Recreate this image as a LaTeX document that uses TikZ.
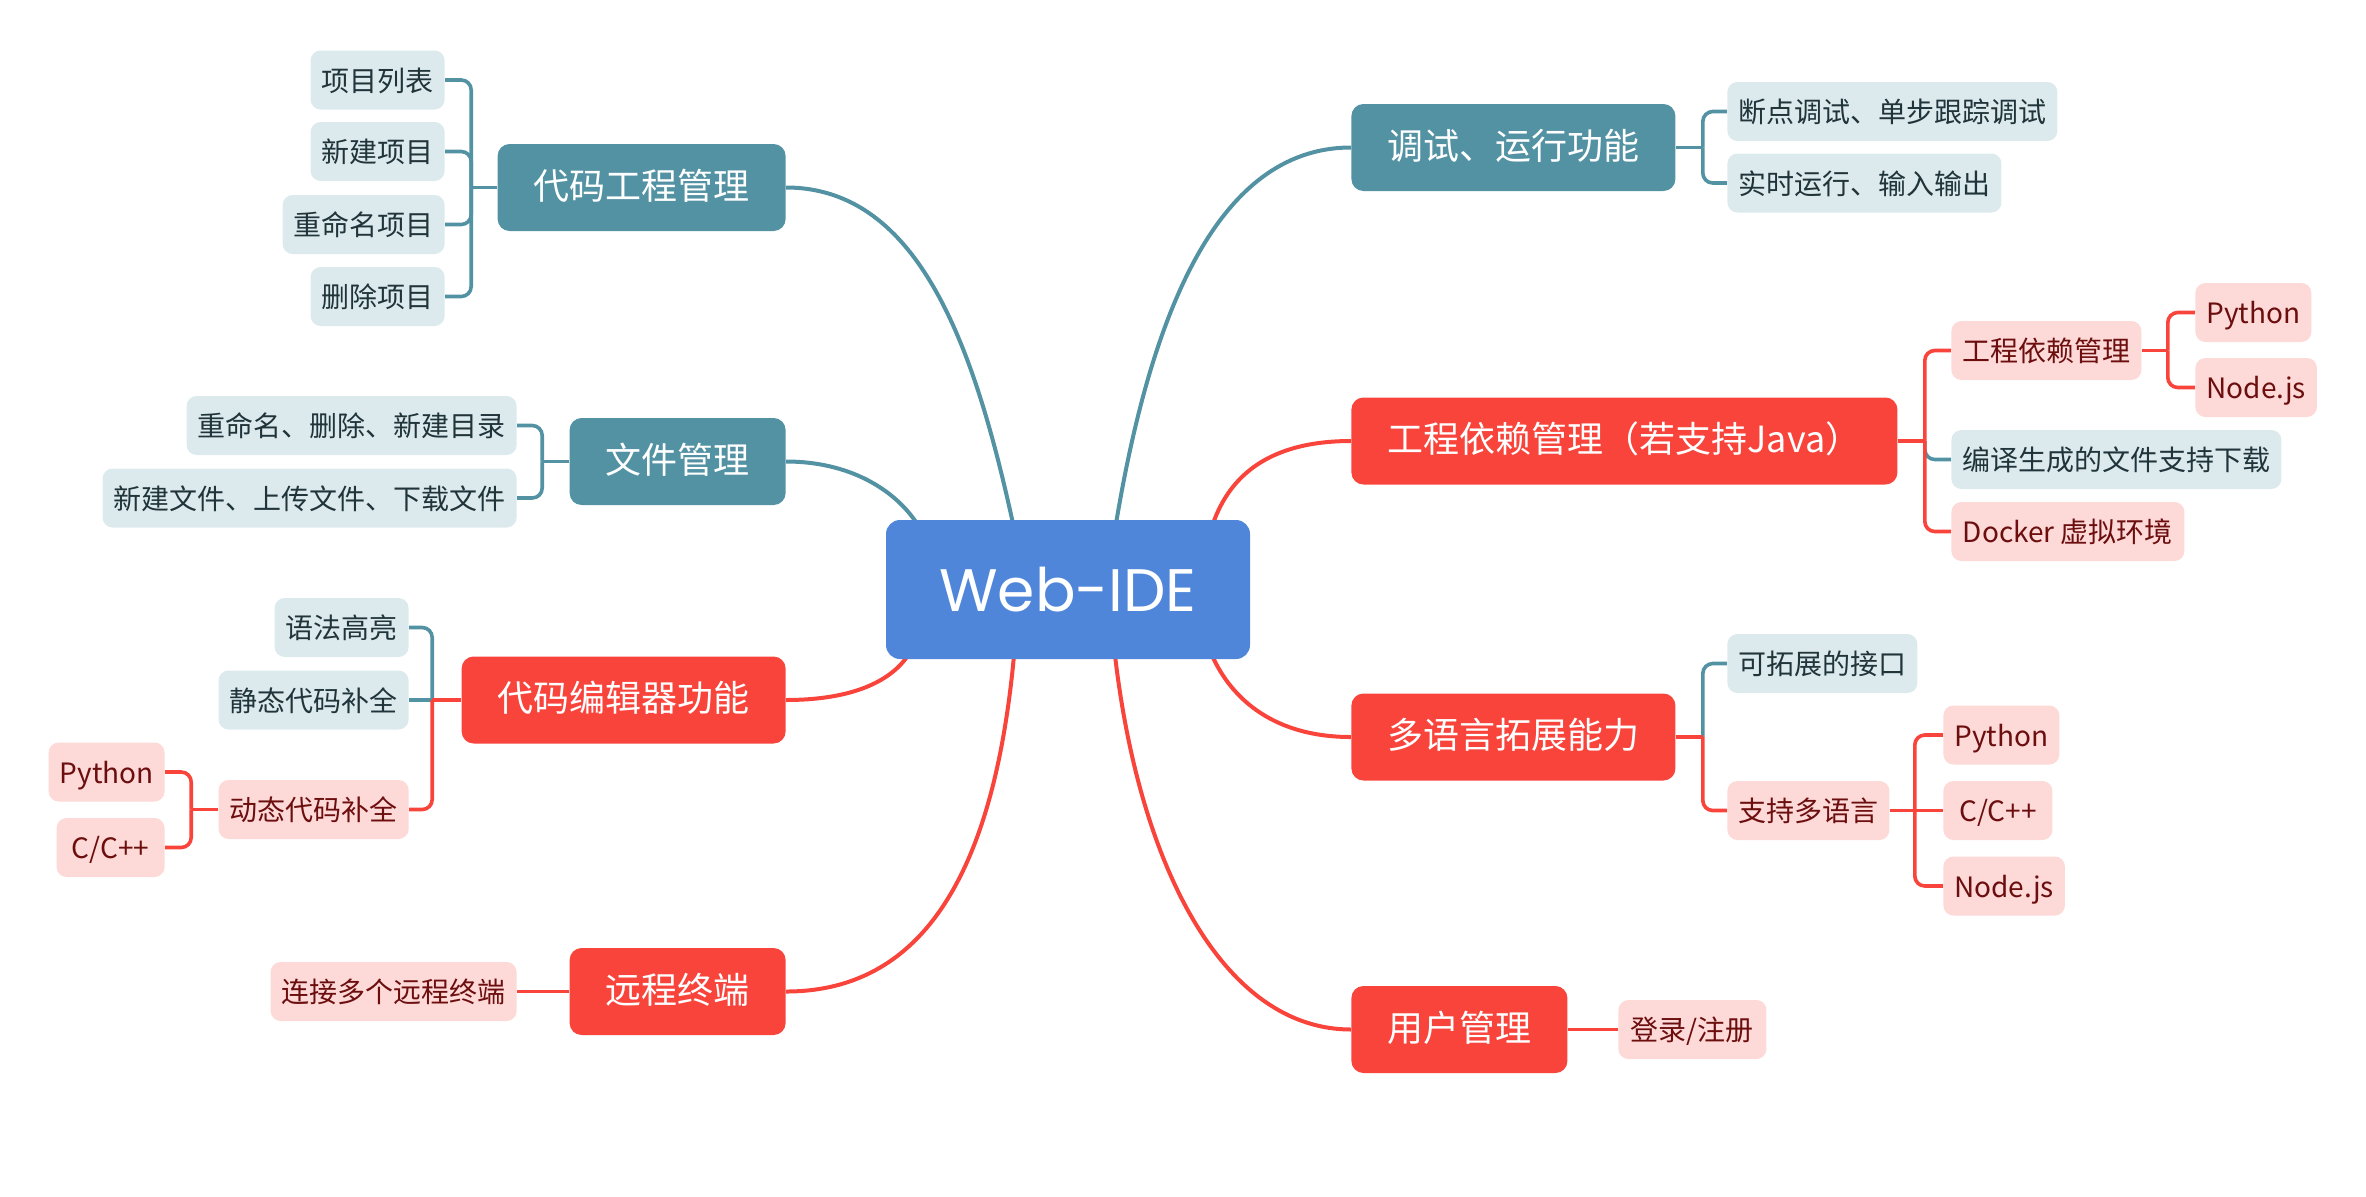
\documentclass[tikz,border=0pt]{standalone}
\usepackage{fontspec}
\usetikzlibrary{calc}
\newfontfamily\cjk{Noto Sans CJK SC}
\newfontfamily\webfont{Poppins}
\definecolor{tealM}{RGB}{82,146,163}
\definecolor{redM}{RGB}{249,68,60}
\definecolor{blueM}{RGB}{79,134,217}
\definecolor{tealL}{RGB}{220,234,238}
\definecolor{pinkL}{RGB}{253,217,216}
\definecolor{tealD}{RGB}{32,52,58}
\definecolor{redD}{RGB}{108,14,14}
\pgfdeclarelayer{bg}
\pgfsetlayers{bg,main}
\begin{document}
\begin{tikzpicture}[x=0.5pt,y=-0.5pt,
  rootbox/.style={rectangle, rounded corners=7pt, fill=blueM, text=white,
    font=\webfont\fontsize{30pt}{36pt}\selectfont, minimum width=182pt, minimum height=69.5pt, inner sep=0pt},
  mainbox/.style={rectangle, rounded corners=6pt, text=white,
    font=\cjk\fontsize{18pt}{20pt}\selectfont, minimum height=43.5pt, inner xsep=18pt, inner ysep=0pt,
    text height=1.18em, text depth=0em},
  mainT/.style={mainbox, fill=tealM},
  mainR/.style={mainbox, fill=redM},
  subbox/.style={rectangle, rounded corners=5pt,
    font=\cjk\fontsize{14pt}{16pt}\selectfont, minimum height=29.5pt, inner xsep=5.5pt, inner ysep=0pt,
    text height=1.1em, text depth=0em},
  subT/.style={subbox, fill=tealL, text=tealD},
  subR/.style={subbox, fill=pinkL, text=redD},
  curveT/.style={draw=tealM, line width=2pt},
  curveR/.style={draw=redM, line width=2pt},
  lnT/.style={draw=tealM, line width=1.8pt},
  lnR/.style={draw=redM, line width=1.8pt},
  rc/.style={rounded corners=5pt}
]
\useasboundingbox (0,0) rectangle (2366,1196);

% root
\node[rootbox] (root) at (1068,589.5) {Web-IDE};

% left side
\node[mainT, anchor=east] (cp) at (786,187.5) {代码工程管理};
\node[subT, anchor=east] (cp1) at (445,80) {项目列表};
\node[subT, anchor=east] (cp2) at (445,151.5) {新建项目};
\node[subT, anchor=east] (cp3) at (445,224.5) {重命名项目};
\node[subT, anchor=east] (cp4) at (445,296.5) {删除项目};

\node[mainT, anchor=east] (fm) at (786,461.5) {文件管理};
\node[subT, anchor=east] (fm1) at (517,425.5) {重命名、删除、新建目录};
\node[subT, anchor=east] (fm2) at (517,498) {新建文件、上传文件、下载文件};

\node[mainR, anchor=east] (ce) at (786,700) {代码编辑器功能};
\node[subT, anchor=east] (ce1) at (409,627.5) {语法高亮};
\node[subT, anchor=east] (ce2) at (409,700) {静态代码补全};
\node[subR, anchor=east] (ce3) at (409,809.5) {动态代码补全};
\node[subR, anchor=east, minimum width=57.5pt] (ce31) at (165,772) {Python};
\node[subR, anchor=east, minimum width=54pt] (ce32) at (165,847.5) {C/C++};

\node[mainR, anchor=east] (rt) at (786,991.5) {远程终端};
\node[subR, anchor=east] (rt1) at (517,991.5) {连接多个远程终端};

% right side
\node[mainT, anchor=west] (dbg) at (1351,147.5) {调试、运行功能};
\node[subT, anchor=west] (dbg1) at (1727,111.5) {断点调试、单步跟踪调试};
\node[subT, anchor=west] (dbg2) at (1727,183) {实时运行、输入输出};

\node[mainR, anchor=west, minimum width=273pt] (dep) at (1351,441) {工程依赖管理（若支持Java）};
\node[subR, anchor=west] (dep1) at (1951,350.5) {工程依赖管理};
\node[subR, anchor=west, minimum width=57pt] (dep11) at (2195,312.5) {Python};
\node[subR, anchor=west, minimum width=59.5pt] (dep12) at (2195,387.5) {Node.js};
\node[subT, anchor=west] (dep2) at (1951,459.5) {编译生成的文件支持下载};
\node[subR, anchor=west, minimum width=116.5pt] (dep3) at (1951,531.5) {Docker 虚拟环境};

\node[mainR, anchor=west] (ml) at (1351,737) {多语言拓展能力};
\node[subT, anchor=west] (ml1) at (1727,663.5) {可拓展的接口};
\node[subR, anchor=west] (ml2) at (1727,810.5) {支持多语言};
\node[subR, anchor=west, minimum width=57pt] (ml21) at (1943,735) {Python};
\node[subR, anchor=west, minimum width=54.5pt] (ml22) at (1943,810.5) {C/C++};
\node[subR, anchor=west, minimum width=60pt] (ml23) at (1943,886) {Node.js};

\node[mainR, anchor=west] (um) at (1351,1029.5) {用户管理};
\node[subR, anchor=west, minimum width=74pt] (um1) at (1618,1029.5) {登录/注册};

% bracket junctions
\coordinate (cpb) at ($(cp.west)+(-26,0)$);
\coordinate (fmb) at ($(fm.west)+(-27,0)$);
\coordinate (ceb) at ($(ce.west)+(-29,0)$);
\coordinate (ce3b) at ($(ce3.west)+(-27,0)$);
\coordinate (dbgb) at ($(dbg.east)+(27,0)$);
\coordinate (depb) at ($(dep.east)+(27,0)$);
\coordinate (dep1b) at ($(dep1.east)+(26,0)$);
\coordinate (mlb) at ($(ml.east)+(27,0)$);
\coordinate (ml2b) at ($(ml2.east)+(25,0)$);

\begin{pgfonlayer}{bg}
% main curves
\draw[curveT] ($(root.north)+(-55,4)$) .. controls (975,350) and (920,187.5) .. (cp.east);
\draw[curveT] ($(root.north)+(-151,4)$) .. controls (895,490) and (850,461.5) .. (fm.east);
\draw[curveT] ($(root.north)+(48,4)$) .. controls (1150,320) and (1215,147.5) .. (dbg.west);
\draw[curveR] ($(root.north)+(145,4)$) .. controls (1230,475) and (1270,441) .. (dep.west);
\draw[curveR] ($(root.south)+(-160,-4)$) .. controls (888,685) and (845,700) .. (ce.east);
\draw[curveR] ($(root.south)+(-54,-4)$) .. controls (995,860) and (930,991.5) .. (rt.east);
\draw[curveR] ($(root.south)+(47,-4)$) .. controls (1140,870) and (1225,1029.5) .. (um.west);
\draw[curveR] ($(root.south)+(144,-4)$) .. controls (1232,700) and (1275,737) .. (ml.west);

% teal sub connectors
\draw[lnT] (cp.west) -- (cpb);
\foreach \c in {cp1,cp2,cp3,cp4} \draw[lnT,rc] (cpb) |- (\c.east);
\draw[lnT] (fm.west) -- (fmb);
\foreach \c in {fm1,fm2} \draw[lnT,rc] (fmb) |- (\c.east);
\draw[lnT,rc] (ceb) |- (ce1.east);
\draw[lnT] (ceb) -- (ce2.east);
\draw[lnT] (dbg.east) -- (dbgb);
\foreach \c in {dbg1,dbg2} \draw[lnT,rc] (dbgb) |- (\c.west);
\draw[lnT,rc] (depb) |- (dep2.west);
\draw[lnT,rc] (mlb) |- (ml1.west);

% red sub connectors
\draw[lnR] (ce.west) -- (ceb);
\draw[lnR,rc] (ceb) |- (ce3.east);
\draw[lnR] (ce3.west) -- (ce3b);
\foreach \c in {ce31,ce32} \draw[lnR,rc] (ce3b) |- (\c.east);
\draw[lnR] (rt.west) -- (rt1.east);
\draw[lnR] (dep.east) -- (depb);
\foreach \c in {dep1,dep3} \draw[lnR,rc] (depb) |- (\c.west);
\draw[lnR] (dep1.east) -- (dep1b);
\foreach \c in {dep11,dep12} \draw[lnR,rc] (dep1b) |- (\c.west);
\draw[lnR] (ml.east) -- (mlb);
\draw[lnR,rc] (mlb) |- (ml2.west);
\draw[lnR] (ml2.east) -- (ml2b);
\draw[lnR,rc] (ml2b) |- (ml21.west);
\draw[lnR] (ml2b) -- (ml22.west);
\draw[lnR,rc] (ml2b) |- (ml23.west);
\draw[lnR] (um.east) -- (um1.west);
\end{pgfonlayer}
\end{tikzpicture}
\end{document}
